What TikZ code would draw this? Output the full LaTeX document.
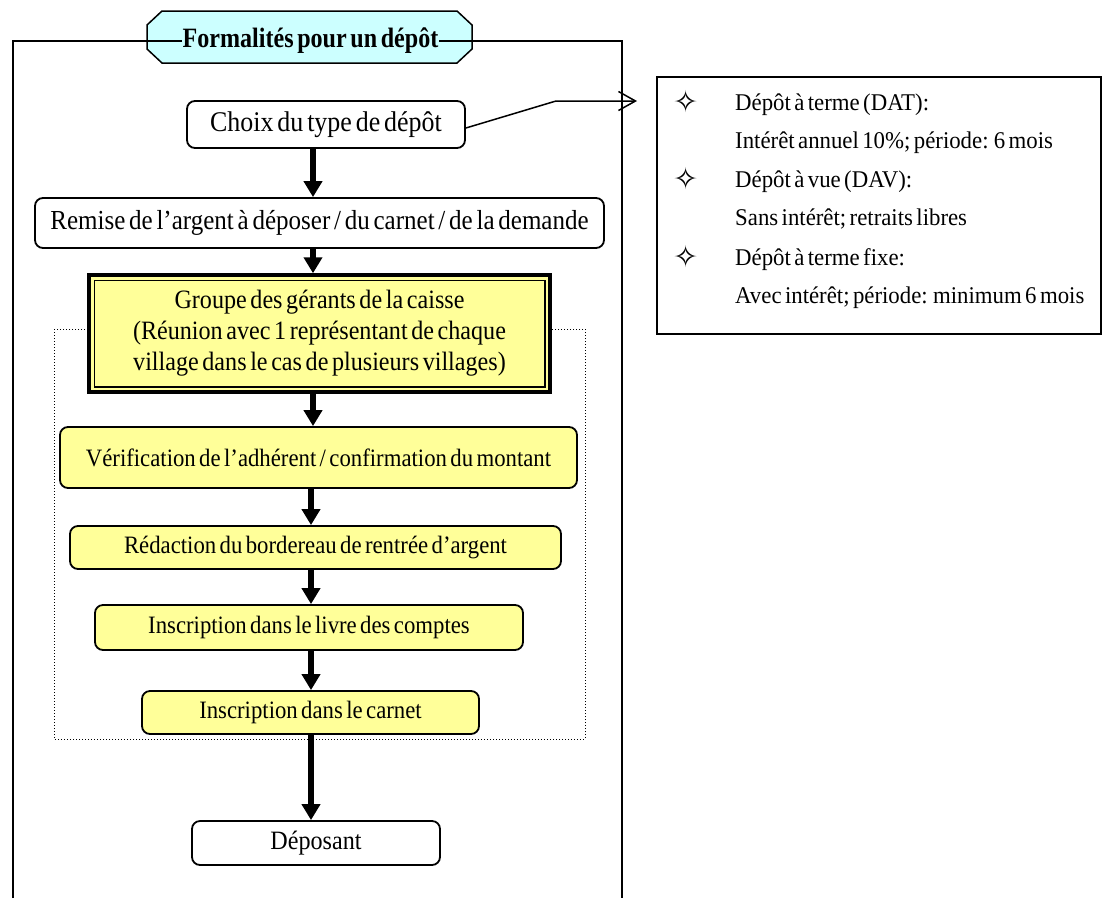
\documentclass[tikz,border=0pt]{standalone}
\usepackage{fontspec}
\setmainfont{Liberation Serif}
\newfontfamily\narrowserif[FakeStretch=0.91,WordSpace=0.6]{Liberation Serif}
\newfontfamily\infoserif[FakeStretch=0.95,WordSpace=0.6]{Liberation Serif}
\newfontfamily\titleserif[FakeStretch=0.86,WordSpace=0.6]{Liberation Serif}
\newfontfamily\symfont{DejaVu Sans}
\usetikzlibrary{arrows.meta}
\definecolor{boxyellow}{HTML}{FFFF99}
\definecolor{titlecyan}{HTML}{CCFFFF}

\begin{document}
\begin{tikzpicture}[x=1pt,y=-1pt,
  every node/.style={inner sep=0pt, align=center},
  flowtext/.style={font=\narrowserif\fontsize{#1}{31}\selectfont},
  flowtext/.default=28,
  infotext/.style={font=\infoserif\fontsize{24}{26}\selectfont, anchor=base west},
  bullet/.style={font=\symfont\fontsize{30}{30}\selectfont},
  whitebox/.style={flowtext=#1, draw=black, line width=1.8pt, fill=white, rounded corners=8pt},
  whitebox/.default=28,
  yellowbox/.style={flowtext=#1, draw=black, line width=1.8pt, fill=boxyellow, rounded corners=8pt},
  yellowbox/.default=25,
  flow/.style={line width=6pt, -{Triangle[length=16pt,width=18pt]}},
  pointer/.style={line width=1.5pt, -{Straight Barb[length=17pt,width=19pt,line width=1.5pt]}}
]
\useasboundingbox (0,0) rectangle (1102,898);

% dotted group around the processing steps
\draw[line width=1pt, dotted] (54,329) rectangle (585,739);

% title plate and the open frame
\draw[line width=1.5pt, fill=titlecyan]
  (147,25) -- (162,11) -- (457,11) -- (472,25) -- (472,49) -- (457,63) -- (162,63) -- (147,49) -- cycle;
\draw[line width=1.5pt] (13,898) -- (13,41) -- (622,41) -- (622,898);
\node[fill=titlecyan, inner xsep=1pt, inner ysep=2pt, font=\titleserif\fontsize{28}{30}\selectfont\bfseries] (title) at (310.5,41) {Formalités pour un dépôt};

% flow steps
\node[whitebox=28.5, minimum width=278pt, minimum height=47pt] (choix) at (326,124.5) {Choix du type de dépôt};
\node[whitebox=27.5, minimum width=569pt, minimum height=50pt] (remise) at (319.5,223) {Remise de l’argent à déposer / du carnet / de la demande};
\node[flowtext=26.5, draw=black, line width=3.5pt, fill=boxyellow, minimum width=461pt, minimum height=117pt] (groupe) at (319.5,333.5)
  {Groupe des gérants de la caisse\\(Réunion avec 1 représentant de chaque\\village dans le cas de plusieurs villages)};
\draw[line width=1.5pt] ([shift={(7pt,-7pt)}]groupe.north west) rectangle ([shift={(-7pt,7pt)}]groupe.south east);
\node[yellowbox, minimum width=517pt, minimum height=61pt] (verif) at (318.5,457.5) {Vérification de l’adhérent / confirmation du montant};
\node[yellowbox, minimum width=491pt, minimum height=43pt] (redac) at (315.5,547.5) {Rédaction du bordereau de rentrée d’argent};
\node[yellowbox, minimum width=428pt, minimum height=45pt] (livre) at (309,627.5) {Inscription dans le livre des comptes};
\node[yellowbox, minimum width=337pt, minimum height=43pt] (carnet) at (310.5,712.5) {Inscription dans le carnet};
\node[whitebox=26.5, minimum width=248pt, minimum height=44pt] (depos) at (316,843) {Déposant};

% arrows between the steps
\coordinate (colA) at (313,0);
\coordinate (colB) at (311,0);
\draw[flow] (choix.south -| colA) -- (remise.north -| colA);
\draw[flow] (remise.south -| colA) -- (groupe.north -| colA);
\draw[flow] (groupe.south -| colA) -- (verif.north -| colA);
\draw[flow] (verif.south -| colB) -- (redac.north -| colB);
\draw[flow] (redac.south -| colB) -- (livre.north -| colB);
\draw[flow] (livre.south -| colB) -- (carnet.north -| colB);
\draw[flow] (carnet.south -| colB) -- (depos.north -| colB);

% deposit types
\draw[line width=1.5pt] (657,77) rectangle (1101,334);
\coordinate (bend) at (556,101);
\coordinate (tip) at (637,101);
\draw[pointer] ([yshift=-3.5pt]choix.east) -- (bend) -- (tip);

\node[bullet] (b1) at (686,102) {✧};
\node[bullet] (b2) at (686,179) {✧};
\node[bullet] (b3) at (686,257) {✧};
\node[infotext] (t1) at (735,110) {Dépôt à terme (DAT):};
\node[infotext] (t2) at (735,148) {Intérêt annuel 10\%; période: 6 mois};
\node[infotext] (t3) at (735,187) {Dépôt à vue (DAV):};
\node[infotext] (t4) at (735,225) {Sans intérêt; retraits libres};
\node[infotext] (t5) at (735,265) {Dépôt à terme fixe:};
\node[infotext] (t6) at (735,303) {Avec intérêt; période: minimum 6 mois};
\end{tikzpicture}
\end{document}
